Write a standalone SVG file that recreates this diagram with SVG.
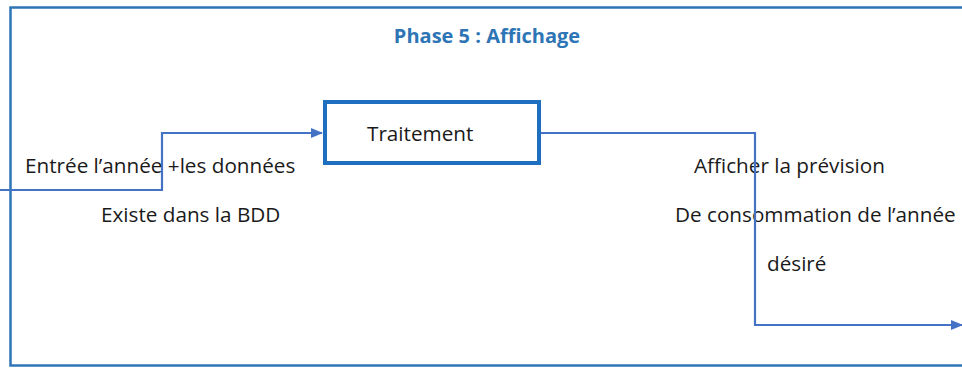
<svg xmlns="http://www.w3.org/2000/svg" width="962" height="368" viewBox="0 0 962 368">
  <defs>
    <marker id="arrow" viewBox="0 0 12 10" refX="11" refY="5" markerWidth="12" markerHeight="10" markerUnits="userSpaceOnUse" orient="auto">
      <path d="M0,0 L12,5 L0,10 z" fill="#4472c4"/>
    </marker>
    <style>
      .frame { fill: #ffffff; stroke: #2e75b6; stroke-width: 2.5; }
      .box { fill: #ffffff; stroke: #1f6fc0; stroke-width: 4; }
      .link { fill: none; stroke: #4472c4; stroke-width: 2.2; }
      .txt { font-family: "Open Sans", "Noto Sans", sans-serif; font-size: 20.7px; fill: #1a1a1a; }
      .title { font-family: "Open Sans", "Noto Sans", sans-serif; font-size: 20px; font-weight: bold; fill: #2e75b6; }
    </style>
  </defs>

  <rect width="962" height="368" fill="#ffffff"/>

  <!-- outer panel -->
  <g id="panel">
    <rect class="frame" x="10.5" y="7.5" width="970" height="358"/>
    <text class="title" x="487" y="43" text-anchor="middle">Phase 5 : Affichage</text>
  </g>

  <!-- process box -->
  <g id="traitement">
    <rect class="box" x="325" y="102" width="214" height="61"/>
    <text class="txt" x="367" y="141">Traitement</text>
  </g>

  <!-- labels -->
  <g id="entree">
    <text class="txt" x="25" y="173">Entrée l’année +les données</text>
    <text class="txt" x="101" y="222">Existe dans la BDD</text>
  </g>
  <g id="affichage">
    <text class="txt" x="694" y="173">Afficher la prévision</text>
    <text class="txt" x="675" y="222">De consommation de l’année</text>
    <text class="txt" x="767" y="271">désiré</text>
  </g>

  <!-- connectors -->
  <g id="connectors">
    <path class="link" d="M0,190 H162 V133 H322" marker-end="url(#arrow)"/>
    <path class="link" d="M541,133 H755 V325 H962" marker-end="url(#arrow)"/>
  </g>
</svg>
